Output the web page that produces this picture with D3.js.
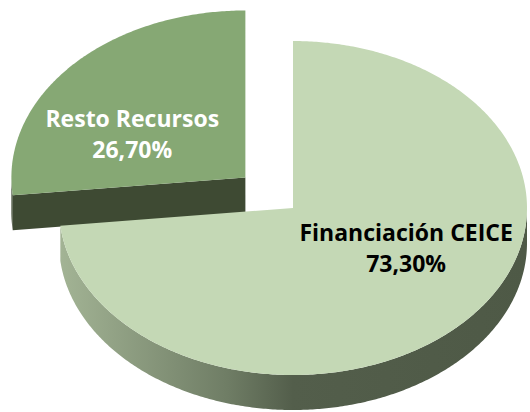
<!DOCTYPE html>
<html>
<head>
<meta charset="utf-8">
<script src="https://cdn.jsdelivr.net/npm/d3@7"></script>
<style>
  body { margin: 0; background: #fff; }
</style>
</head>
<body>
<script>
// chart data
var categories = ["Financiación CEICE", "Resto Recursos"];
var shares = [73.30, 26.70];
var shareLabels = ["73,30%", "26,70%"];

// colours
var topColor = d3.scaleOrdinal().domain(categories).range(["#c4d8b5", "#86a874"]);
var sideColor = d3.scaleOrdinal().domain(categories).range(["url(#wallGrad)", "#3e4a33"]);
var textColor = d3.scaleOrdinal().domain(categories).range(["#000000", "#ffffff"]);

// size and 3d geometry
var w = 530, h = 412;
var cx = 293, cy = 208;      // centre of the pie top face
var rx = 234, ry = 167;      // ellipse radii
var depth = 35;              // thickness of the pie
var explodeDist = 64;        // how far the small slice is pulled out

var data = categories.map(function(c, i) {
    return { name: c, value: shares[i], label: shareLabels[i], explode: i == 1 };
});

var pie = d3.pie()
            .sort(null)
            .value(function(d) { return d.value; })
            .startAngle(0)
            .endAngle(2 * Math.PI);

var arcs = pie(data);

var svg = d3.select("body")
            .append("svg")
            .attr("width", w)
            .attr("height", h);

// gradient for the wall of the big slice
var grad = svg.append("defs")
              .append("linearGradient")
              .attr("id", "wallGrad")
              .attr("gradientUnits", "userSpaceOnUse")
              .attr("x1", cx - rx).attr("y1", 0)
              .attr("x2", cx + rx).attr("y2", 0);
grad.append("stop").attr("offset", 0).attr("stop-color", "#a3b495");
grad.append("stop").attr("offset", 0.36).attr("stop-color", "#6f7d65");
grad.append("stop").attr("offset", 0.5).attr("stop-color", "#535e4b");
grad.append("stop").attr("offset", 1).attr("stop-color", "#4e5946");

// offset of each slice (explode)
arcs.forEach(function(d) {
    var mid = (d.startAngle + d.endAngle) / 2;
    d.ox = d.data.explode ? explodeDist * Math.sin(mid) : 0;
    d.oy = d.data.explode ? -explodeDist * Math.cos(mid) * ry / rx : 0;
});

function pt(d, a, r, dy) {
    return [cx + d.ox + r * rx * Math.sin(a), cy + d.oy - r * ry * Math.cos(a) + (dy || 0)];
}

function anglesBetween(a0, a1) {
    var n = Math.max(2, Math.ceil((a1 - a0) / 0.01));
    return d3.range(n + 1).map(function(i) { return a0 + (a1 - a0) * i / n; });
}

var line = d3.line();

function topPath(d) {
    var pts = [pt(d, 0, 0)].concat(anglesBetween(d.startAngle, d.endAngle).map(function(a) { return pt(d, a, 1); }));
    return line(pts) + "Z";
}

// outer wall, only the front half can be seen
function wallPath(d) {
    var a0 = Math.max(d.startAngle, Math.PI / 2);
    var a1 = Math.min(d.endAngle, 3 * Math.PI / 2);
    if (a1 <= a0) return null;
    var angs = anglesBetween(a0, a1);
    var upper = angs.map(function(a) { return pt(d, a, 1); });
    var lower = angs.slice().reverse().map(function(a) { return pt(d, a, 1, depth); });
    return line(upper.concat(lower)) + "Z";
}

// cut face along the start edge (seen from below when it points left)
function facePath(d, a) {
    return line([pt(d, a, 0), pt(d, a, 1), pt(d, a, 1, depth), pt(d, a, 0, depth)]) + "Z";
}

// draw the exploded slice first, it sits behind
var order = arcs.slice().sort(function(a, b) { return (b.data.explode ? 1 : 0) - (a.data.explode ? 1 : 0); });

var slices = svg.selectAll(".slice")
                .data(order)
                .enter()
                .append("g")
                .attr("class", "slice");

slices.filter(function(d) { return d.data.explode; })
      .append("path")
      .attr("d", function(d) { return facePath(d, d.startAngle); })
      .attr("fill", function(d) { return sideColor(d.data.name); });

slices.append("path")
      .attr("d", wallPath)
      .attr("fill", function(d) { return sideColor(d.data.name); });

slices.append("path")
      .attr("d", topPath)
      .attr("fill", function(d) { return topColor(d.data.name); });

// labels
var labels = svg.selectAll(".lbl")
                .data(arcs)
                .enter()
                .append("text")
                .attr("class", "lbl")
                .attr("text-anchor", "middle")
                .style("font-family", "'Open Sans', sans-serif")
                .style("font-weight", "bold")
                .style("font-size", "23px")
                .attr("fill", function(d) { return textColor(d.data.name); })
                .attr("transform", function(d) {
                    var mid = (d.startAngle + d.endAngle) / 2;
                    var x = cx + d.ox + 0.65 * rx * Math.sin(mid);
                    var y = cy + d.oy - 0.37 * ry * Math.cos(mid);
                    return "translate(" + x + "," + y + ")";
                });

labels.append("tspan")
      .attr("x", 0)
      .attr("dy", "-0.38em")
      .text(function(d) { return d.data.name; });

labels.append("tspan")
      .attr("x", 0)
      .attr("dy", "1.35em")
      .text(function(d) { return d.data.label; });
</script>
</body>
</html>
